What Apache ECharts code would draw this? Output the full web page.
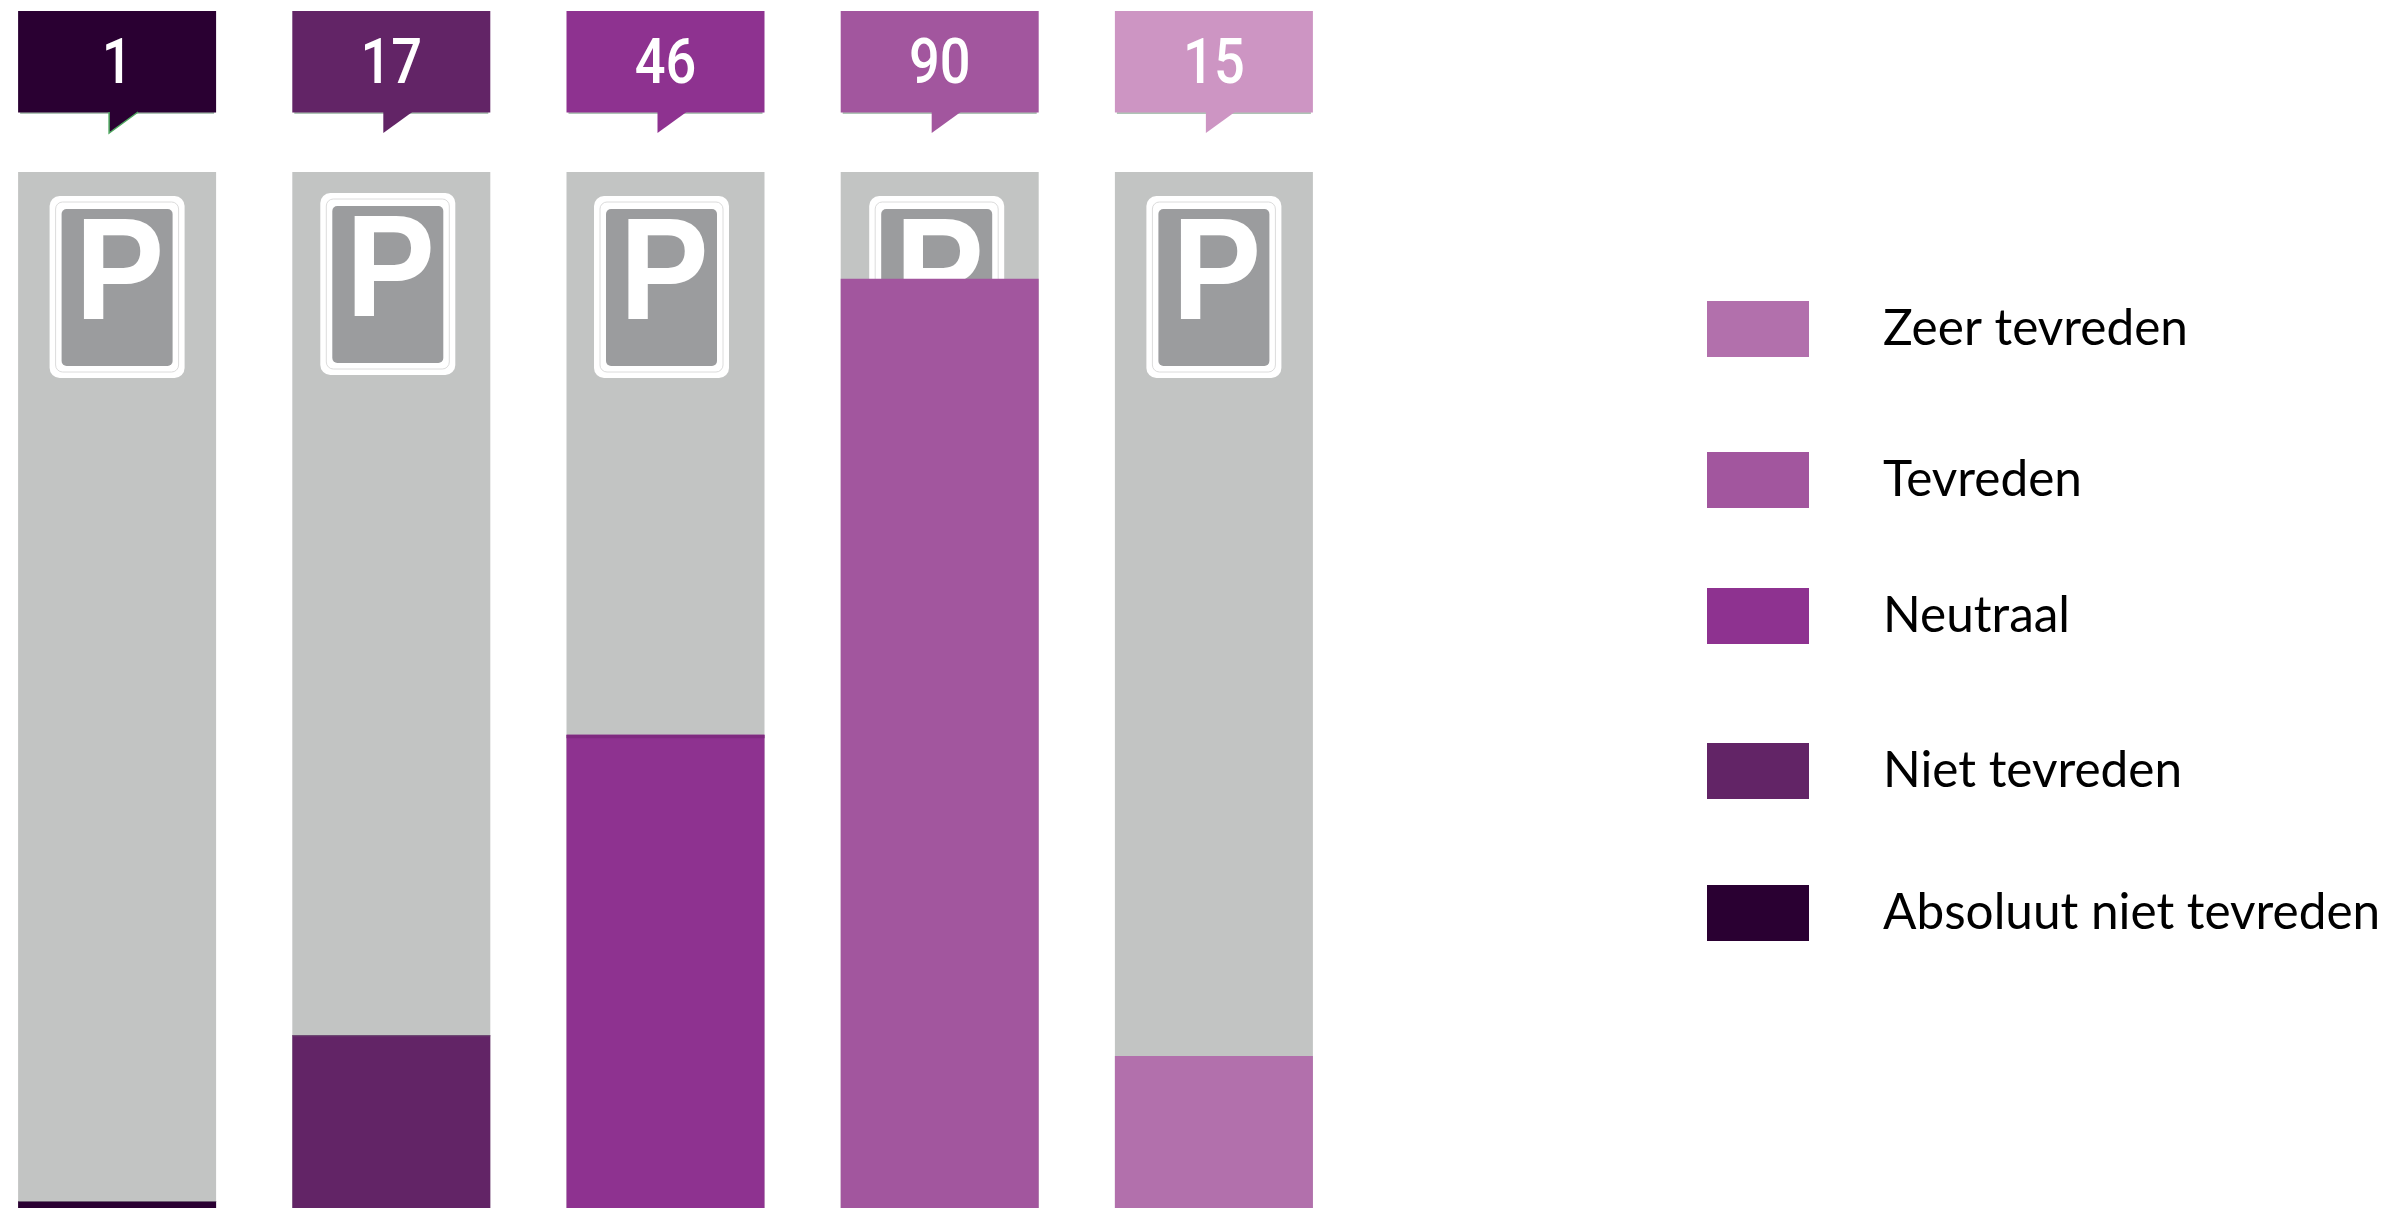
<!DOCTYPE html>
<html>
<head>
<meta charset="utf-8">
<style>
  html, body { margin: 0; padding: 0; background: #fff; }
  #chart { width: 2396px; height: 1208px; }
</style>
<script src="https://cdn.jsdelivr.net/npm/echarts@6/dist/echarts.min.js"></script>
</head>
<body>
<div id="chart"></div>
<script>
const categories = ["Absoluut niet tevreden", "Niet tevreden", "Neutraal", "Tevreden", "Zeer tevreden"];
const counts = [1, 17, 46, 90, 15];
const trackTop = 100.3;

const barColors = ["#2a0032", "#622466", "#8e3290", "#a2569e", "#b270ac"];
const bubbleColors = ["#2a0032", "#622466", "#8e3290", "#a2569e", "#cd95c3"];
// darker seam on top of some bars
const seamHeights = [1, 1, 3.5, 0, 0];
const seamColors = ["#6b5a70", "#6b4a70", "#7f2a80", "#a2569e", "#b270ac"];
const legendTops = [301, 452, 588, 743, 885];
const signShiftX = [0, -3.5, -4, -3, 0];
const signShiftY = [0, -3, 0, 0, 0];

const chart = echarts.init(document.getElementById("chart"), null, { renderer: "canvas" });

const BAR_W = 198;

function bubbleItem(params, api) {
  const i = api.value(0);
  const x = api.coord([i, 0])[0] - BAR_W / 2;
  const top = params.coordSys.y - 161;
  const tail = [[x + 91, top + 101], [x + 91, top + 122], [x + 120, top + 101]];
  const children = [
    { type: "rect", shape: { x: x + 2, y: top + 101.5, width: BAR_W - 4, height: 1 }, style: { fill: "#5f8a6c" } },
    { type: "rect", shape: { x: x, y: top, width: BAR_W, height: 101.5 }, style: { fill: bubbleColors[i] } },
    { type: "polygon", shape: { points: tail }, style: { fill: bubbleColors[i] } },
    {
      type: "text",
      x: x + BAR_W / 2,
      y: top + 56,
      scaleX: 0.86,
      style: {
        text: String(counts[i]),
        fill: "#fff",
        align: "center",
        verticalAlign: "middle",
        font: '500 63px "Roboto"'
      }
    }
  ];
  if (i === 0) {
    children.push({
      type: "polyline",
      shape: { points: tail },
      style: { fill: "none", stroke: "#4fa860", lineWidth: 1.5 }
    });
  }
  return { type: "group", children: children };
}

function signItem(params, api) {
  const i = api.value(0);
  const cx = api.coord([i, 0])[0] + signShiftX[i];
  const top = params.coordSys.y + 24 + signShiftY[i];
  const x = cx - 67.5;
  return {
    type: "group",
    children: [
      { type: "rect", shape: { x: x, y: top, width: 135, height: 182, r: 10 }, style: { fill: "#fff" } },
      {
        type: "rect",
        shape: { x: x + 6, y: top + 6, width: 123, height: 170, r: 7 },
        style: { fill: "#fff", stroke: "#dcdcdc", lineWidth: 1 }
      },
      { type: "rect", shape: { x: x + 12, y: top + 13, width: 111, height: 157, r: 5 }, style: { fill: "#9b9c9e" } },
      {
        type: "text",
        x: x + 25.5,
        y: top + 11.5,
        scaleX: 0.93,
        style: {
          text: "P",
          fill: "#fff",
          align: "left",
          verticalAlign: "top",
          font: 'bold 144px "Liberation Sans"'
        }
      }
    ]
  };
}

function seamItem(params, api) {
  const i = api.value(0);
  const p = api.coord([i, counts[i]]);
  return {
    type: "rect",
    shape: { x: p[0] - BAR_W / 2, y: p[1], width: BAR_W, height: seamHeights[i] },
    style: { fill: seamColors[i] }
  };
}

const levelSeries = categories.map(function (name, k) {
  return {
    name: name,
    type: "bar",
    z: 4,
    barWidth: BAR_W,
    barGap: "-100%",
    itemStyle: { color: barColors[k] },
    data: counts.map(function (v, i) { return i === k ? v : null; })
  };
});

chart.setOption({
  animation: false,
  backgroundColor: "#fff",
  grid: { left: -20, width: 1371, top: 172, height: 1039.4, outerBoundsMode: "none" },
  xAxis: { type: "category", data: categories, show: false },
  yAxis: { type: "value", min: 0, max: trackTop, show: false },
  legend: categories.slice().reverse().map(function (name, k) {
    return {
      data: [name],
      left: 1707,
      top: legendTops[k],
      orient: "vertical",
      padding: 0,
      itemWidth: 102,
      itemHeight: 56,
      selectedMode: false,
      icon: "rect",
      textStyle: {
        color: "#000",
        fontFamily: "Lato",
        fontSize: 49.5,
        lineHeight: 56,
        padding: [0, 0, 0, 69]
      }
    };
  }),
  series: [
    {
      name: "track",
      type: "bar",
      z: 1,
      barWidth: BAR_W,
      barGap: "-100%",
      itemStyle: { color: "#c2c4c3" },
      data: categories.map(function () { return trackTop; })
    },
    {
      name: "signs",
      type: "custom",
      z: 2,
      renderItem: signItem,
      data: categories.map(function (c, i) { return [i]; })
    }
  ].concat(levelSeries, [
    {
      name: "seams",
      type: "custom",
      z: 5,
      renderItem: seamItem,
      data: categories.map(function (c, i) { return [i]; })
    },
    {
      name: "bubbles",
      type: "custom",
      z: 5,
      renderItem: bubbleItem,
      data: categories.map(function (c, i) { return [i]; })
    }
  ])
});
</script>
</body>
</html>
